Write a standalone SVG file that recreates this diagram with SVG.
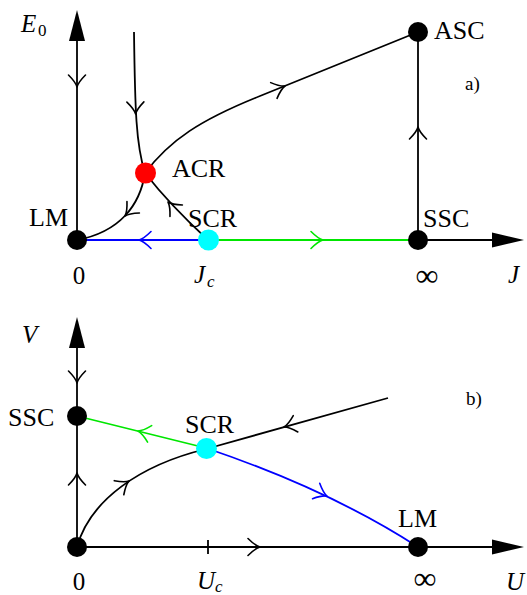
<svg xmlns="http://www.w3.org/2000/svg" xmlns:xlink="http://www.w3.org/1999/xlink" width="527" height="595" viewBox="0 0 527 595">
<style>
  .ln { fill: none; stroke: #000; stroke-width: 1.8; }
  .blue { stroke: #0000ff; }
  .green { stroke: #00e600; }
  .chev { fill: none; stroke-width: 1.6; stroke-linecap: round; stroke-linejoin: round; }
  .head { fill: #000; }
  .lbl { font-family: "Liberation Serif", "Times New Roman", serif; font-size: 26px; fill: #000; }
  .it { font-style: italic; }
  .ax { font-size: 25px; }
  .sub { font-size: 17px; }
  .tag { font-size: 19px; }
  .inf { font-size: 32px; }
  .blk { fill: #000; }
</style>
<defs>
  <path id="chev" d="M-12,-8.5 C-8,-4.5 -3,-0.8 0,0 C-3,0.8 -8,4.5 -12,8.5"/>
</defs>

<g id="connectors">
  <!-- panel a axes -->
  <line class="ln" x1="77" y1="240" x2="77" y2="40"/>
  <polygon class="head" points="77,10 69,41 85,41"/>
  <line class="ln" x1="418" y1="240" x2="494" y2="240"/>
  <polygon class="head" points="524,240 492,232.5 492,247.5"/>
  <use xlink:href="#chev" class="chev" stroke="#000" transform="translate(77,87) rotate(90)"/>

  <!-- blue LM <- SCR -->
  <line class="ln blue" x1="77" y1="240" x2="208" y2="240"/>
  <use xlink:href="#chev" class="chev" stroke="#0000ff" transform="translate(139,240) rotate(180)"/>
  <!-- green SCR -> SSC -->
  <line class="ln green" x1="208" y1="240" x2="418" y2="240"/>
  <use xlink:href="#chev" class="chev" stroke="#00e600" transform="translate(323,240)"/>
  <!-- SSC -> ASC -->
  <line class="ln" x1="418" y1="240" x2="418" y2="32"/>
  <use xlink:href="#chev" class="chev" stroke="#000" transform="translate(418,127) rotate(-90)"/>
  <!-- top -> ACR -->
  <path class="ln" d="M134,32 C135,110 136,145 145,173"/>
  <use xlink:href="#chev" class="chev" stroke="#000" transform="translate(135.6,114) rotate(89)"/>
  <!-- ACR -> ASC -->
  <path class="ln" d="M145,173 C170,140 200,120 260,96 L418,32"/>
  <use xlink:href="#chev" class="chev" stroke="#000" transform="translate(285,86) rotate(-22)"/>
  <!-- ACR -> LM -->
  <path class="ln" d="M145,173 C140,205 120,232 77,240"/>
  <use xlink:href="#chev" class="chev" stroke="#000" transform="translate(125,216) rotate(133)"/>
  <!-- SCR -> ACR -->
  <path class="ln" d="M208,240 Q170,205 145,173"/>
  <use xlink:href="#chev" class="chev" stroke="#000" transform="translate(168,202) rotate(-133)"/>

  <!-- panel b axes -->
  <line class="ln" x1="77" y1="547" x2="77" y2="346"/>
  <polygon class="head" points="77,317 69,348 85,348"/>
  <line class="ln" x1="77" y1="547" x2="494" y2="547"/>
  <polygon class="head" points="524,547 492,539.5 492,554.5"/>
  <use xlink:href="#chev" class="chev" stroke="#000" transform="translate(77,383) rotate(90)"/>
  <use xlink:href="#chev" class="chev" stroke="#000" transform="translate(77,473) rotate(-90)"/>
  <use xlink:href="#chev" class="chev" stroke="#000" transform="translate(260,547)"/>
  <line class="ln" x1="208" y1="540" x2="208" y2="554"/>

  <!-- green SSC <- SCR -->
  <line class="ln green" x1="77" y1="416" x2="206" y2="448"/>
  <use xlink:href="#chev" class="chev" stroke="#00e600" transform="translate(138,431) rotate(194)"/>
  <!-- blue SCR -> LM -->
  <path class="ln blue" d="M206,448 Q330,490 418,547"/>
  <use xlink:href="#chev" class="chev" stroke="#0000ff" transform="translate(327,496) rotate(25)"/>
  <!-- black origin -> SCR <- far -->
  <path class="ln" d="M77,547 C90,500 140,465 206,449 L388,398"/>
  <use xlink:href="#chev" class="chev" stroke="#000" transform="translate(129,481) rotate(-34)"/>
  <use xlink:href="#chev" class="chev" stroke="#000" transform="translate(284,427) rotate(164.4)"/>
</g>

<g id="a-LM"><circle cx="77" cy="240" r="10" class="blk"/><text class="lbl" x="29" y="226">LM</text></g>
<g id="a-ACR"><circle cx="145.5" cy="173" r="10.5" fill="#ff0000"/><text class="lbl" x="172" y="177">ACR</text></g>
<g id="a-SCR"><circle cx="208.5" cy="240" r="10.5" fill="#00ffff"/><text class="lbl" x="188" y="227">SCR</text></g>
<g id="a-SSC"><circle cx="418" cy="240" r="10" class="blk"/><text class="lbl" x="423" y="227">SSC</text></g>
<g id="a-ASC"><circle cx="418" cy="32" r="10" class="blk"/><text class="lbl" x="434" y="39">ASC</text></g>

<g id="a-labels">
  <text class="lbl ax it" x="21" y="32">E</text><text class="lbl sub" x="38" y="36">0</text>
  <text class="lbl ax" x="79" y="284" text-anchor="middle">0</text>
  <text class="lbl ax it" x="194" y="283">J</text><text class="lbl sub it" x="207" y="287">c</text>
  <text class="lbl inf" x="427" y="286" text-anchor="middle">∞</text>
  <text class="lbl ax it" x="508" y="283">J</text>
  <text class="lbl tag" x="465" y="90">a)</text>
</g>

<g id="b-O"><circle cx="77" cy="547" r="10" class="blk"/></g>
<g id="b-SSC"><circle cx="77" cy="416" r="10" class="blk"/><text class="lbl" x="8" y="426">SSC</text></g>
<g id="b-SCR"><circle cx="206.5" cy="448.5" r="10.5" fill="#00ffff"/><text class="lbl" x="185" y="433">SCR</text></g>
<g id="b-LM"><circle cx="418" cy="547" r="10" class="blk"/><text class="lbl" x="398" y="527">LM</text></g>

<g id="b-labels">
  <text class="lbl ax it" x="22" y="343">V</text>
  <text class="lbl ax" x="79" y="590" text-anchor="middle">0</text>
  <text class="lbl ax it" x="197" y="589">U</text><text class="lbl sub it" x="215" y="592">c</text>
  <text class="lbl inf" x="425" y="589" text-anchor="middle">∞</text>
  <text class="lbl ax it" x="506" y="590">U</text>
  <text class="lbl tag" x="466" y="405">b)</text>
</g>
</svg>
